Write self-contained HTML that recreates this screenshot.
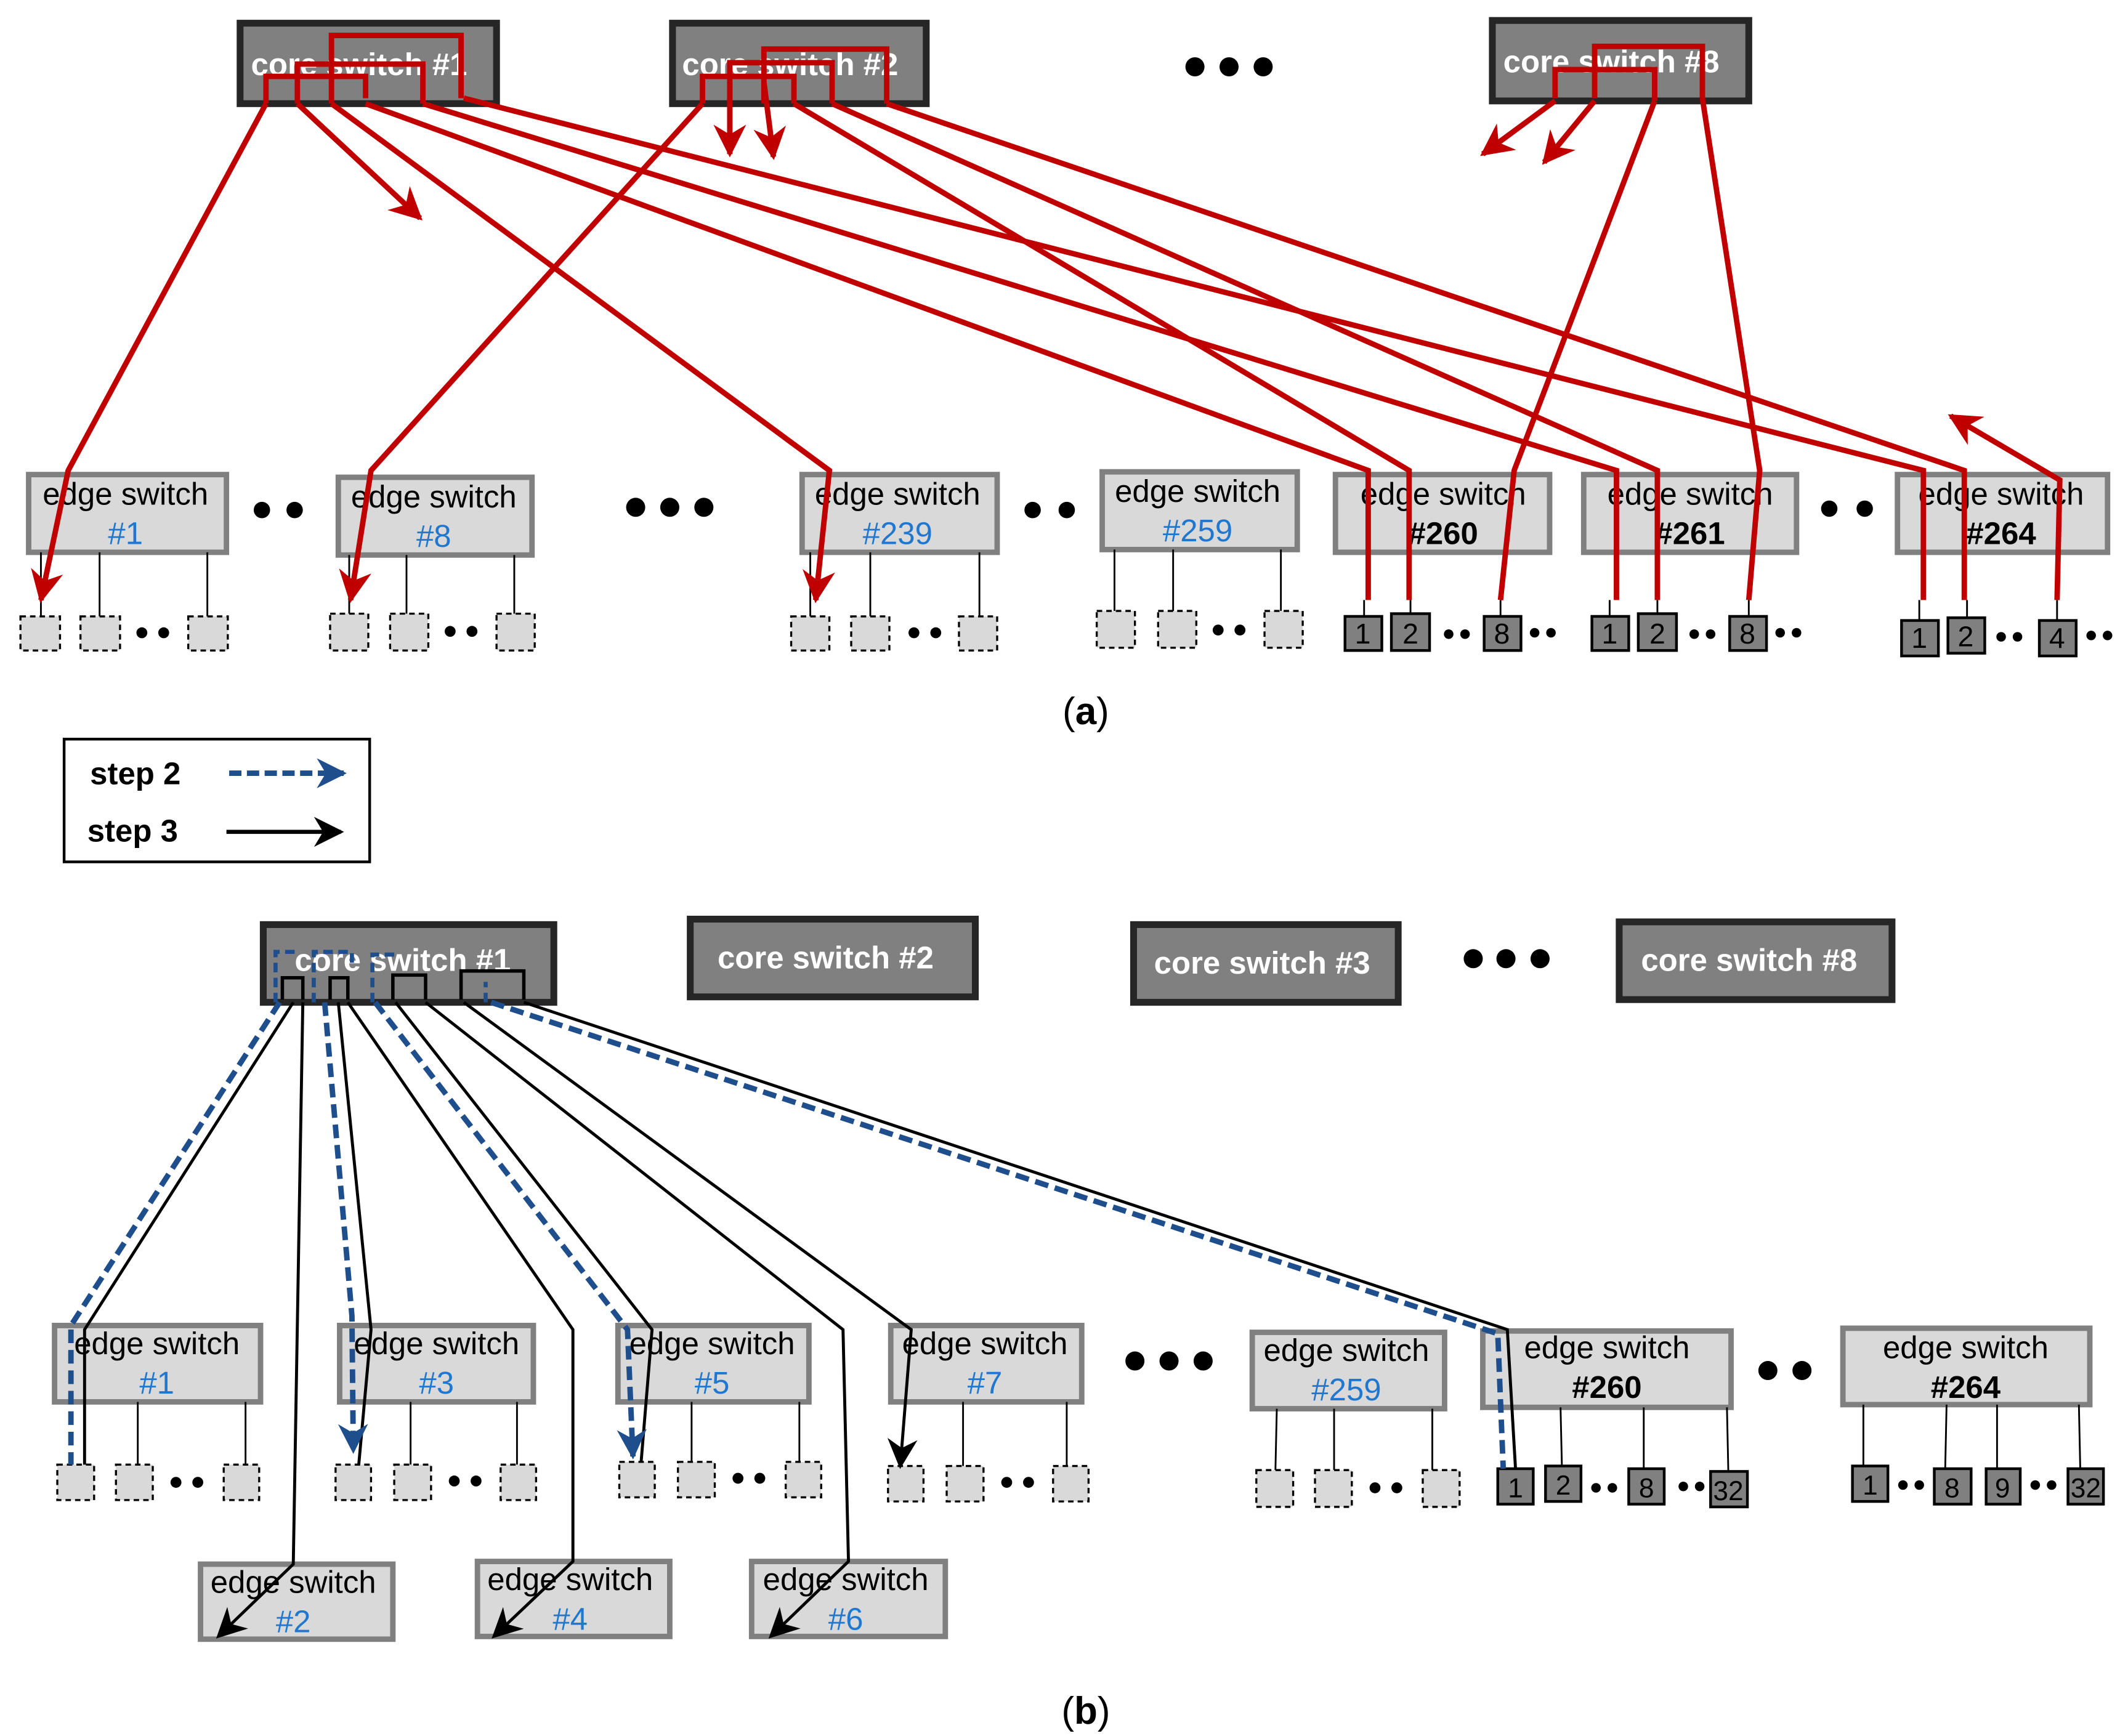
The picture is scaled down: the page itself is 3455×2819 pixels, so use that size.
<!DOCTYPE html>
<html><head><meta charset="utf-8"><style>
html,body{margin:0;padding:0;background:#fff;}
svg{display:block;}
text{font-family:"Liberation Sans",sans-serif;}
</style></head><body>
<svg width="3455" height="2819" viewBox="0 0 1560 1273" preserveAspectRatio="none" xmlns="http://www.w3.org/2000/svg">
<defs>
<marker id="ar" viewBox="0 0 12 12" refX="10" refY="6" markerWidth="6" markerHeight="6" orient="auto" markerUnits="userSpaceOnUse">
</marker>
<marker id="red" viewBox="0 0 20 20" refX="18" refY="10" markerWidth="24" markerHeight="24" orient="auto" markerUnits="userSpaceOnUse"><path d="M0,0 L20,10 L0,20 L6,10 Z" fill="#c00000"/></marker>
<marker id="blk" viewBox="0 0 20 20" refX="18" refY="10" markerWidth="22" markerHeight="22" orient="auto" markerUnits="userSpaceOnUse"><path d="M0,0 L20,10 L0,20 L6,10 Z" fill="#000"/></marker>
<marker id="blu" viewBox="0 0 20 20" refX="18" refY="10" markerWidth="22" markerHeight="22" orient="auto" markerUnits="userSpaceOnUse"><path d="M0,0 L20,10 L0,20 L6,10 Z" fill="#1f4e8c"/></marker>
</defs>

<!-- ============ PART (a) ============ -->
<g stroke="#262626" stroke-width="5" fill="#808080">
<rect x="176" y="17" width="188" height="59"/>
<rect x="493" y="17" width="186" height="59"/>
<rect x="1094" y="15" width="188" height="59"/>
</g>
<g fill="#fff" font-weight="bold" font-size="23">
<text x="184" y="55">core switch #1</text>
<text x="500" y="55">core switch #2</text>
<text x="1102" y="53">core switch #8</text>
</g>
<g fill="#000"><circle cx="876" cy="49" r="7"/><circle cx="901" cy="49" r="7"/><circle cx="926" cy="49" r="7"/></g>

<!-- edge boxes (a) -->
<g stroke="#808080" stroke-width="4" fill="#d9d9d9">
<rect x="21" y="348" width="145" height="57"/>
<rect x="248" y="350" width="142" height="57"/>
<rect x="588" y="348" width="143" height="57"/>
<rect x="808" y="346" width="143" height="57"/>
<rect x="979" y="348" width="157" height="57"/>
<rect x="1161" y="348" width="156" height="57"/>
<rect x="1391" y="348" width="154" height="57"/>
</g>
<g font-size="23" fill="#000" text-anchor="middle">
<text x="92" y="370">edge switch</text>
<text x="318" y="372">edge switch</text>
<text x="658" y="370">edge switch</text>
<text x="878" y="368">edge switch</text>
<text x="1058" y="370">edge switch</text>
<text x="1239" y="370">edge switch</text>
<text x="1467" y="370">edge switch</text>
</g>
<g font-size="23" fill="#1f77d0" text-anchor="middle">
<text x="92" y="399">#1</text>
<text x="318" y="401">#8</text>
<text x="658" y="399">#239</text>
<text x="878" y="397">#259</text>
</g>
<g font-size="23" fill="#000" font-weight="bold" text-anchor="middle">
<text x="1058" y="399">#260</text>
<text x="1239" y="399">#261</text>
<text x="1467" y="399">#264</text>
</g>
<g fill="#000">
<circle cx="192" cy="374" r="6"/><circle cx="216" cy="374" r="6"/>
<circle cx="466" cy="372" r="7"/><circle cx="491" cy="372" r="7"/><circle cx="516" cy="372" r="7"/>
<circle cx="757" cy="374" r="6"/><circle cx="782" cy="374" r="6"/>
<circle cx="1341" cy="373" r="6"/><circle cx="1367" cy="373" r="6"/>
</g>

<!-- hosts (a) -->
<g stroke="#000" stroke-width="1.3">
<line x1="30" y1="405" x2="30" y2="452"/><line x1="73" y1="405" x2="73" y2="452"/><line x1="152" y1="405" x2="152" y2="452"/>
<line x1="256" y1="407" x2="256" y2="450"/><line x1="298" y1="407" x2="298" y2="450"/><line x1="377" y1="407" x2="377" y2="450"/>
<line x1="594" y1="405" x2="594" y2="452"/><line x1="638" y1="405" x2="638" y2="452"/><line x1="718" y1="405" x2="718" y2="452"/>
<line x1="817" y1="403" x2="817" y2="448"/><line x1="860" y1="403" x2="860" y2="448"/><line x1="939" y1="403" x2="939" y2="448"/>
</g>
<g stroke="#000" stroke-width="1.5" stroke-dasharray="4,3" fill="#d9d9d9">
<rect x="15" y="452" width="29" height="25"/><rect x="59" y="452" width="29" height="25"/><rect x="138" y="452" width="29" height="25"/>
<rect x="242" y="450" width="28" height="27"/><rect x="286" y="450" width="28" height="27"/><rect x="364" y="450" width="28" height="27"/>
<rect x="580" y="452" width="28" height="25"/><rect x="624" y="452" width="28" height="25"/><rect x="703" y="452" width="28" height="25"/>
<rect x="804" y="448" width="28" height="27"/><rect x="849" y="448" width="28" height="27"/><rect x="927" y="448" width="28" height="27"/>
</g>
<g fill="#000">
<circle cx="104" cy="464" r="4"/><circle cx="120" cy="464" r="4"/>
<circle cx="330" cy="463" r="4"/><circle cx="346" cy="463" r="4"/>
<circle cx="670" cy="464" r="4"/><circle cx="686" cy="464" r="4"/>
<circle cx="893" cy="462" r="4"/><circle cx="909" cy="462" r="4"/>
<circle cx="1062" cy="465" r="3.5"/><circle cx="1074" cy="465" r="3.5"/><circle cx="1125" cy="464" r="3.5"/><circle cx="1137" cy="464" r="3.5"/>
<circle cx="1242" cy="465" r="3.5"/><circle cx="1254" cy="465" r="3.5"/><circle cx="1305" cy="464" r="3.5"/><circle cx="1317" cy="464" r="3.5"/>
<circle cx="1467" cy="467" r="3.5"/><circle cx="1479" cy="467" r="3.5"/><circle cx="1533" cy="466" r="3.5"/><circle cx="1545" cy="466" r="3.5"/>
</g>
<g stroke="#000" stroke-width="1.3">
<line x1="1000" y1="440" x2="1000" y2="452"/><line x1="1034" y1="440" x2="1034" y2="450"/><line x1="1100" y1="440" x2="1100" y2="452"/>
<line x1="1180" y1="440" x2="1180" y2="452"/><line x1="1215" y1="440" x2="1215" y2="450"/><line x1="1282" y1="440" x2="1282" y2="452"/>
<line x1="1407" y1="440" x2="1407" y2="455"/><line x1="1442" y1="440" x2="1442" y2="453"/><line x1="1508" y1="440" x2="1508" y2="455"/>
</g>
<g stroke="#000" stroke-width="2" fill="#808080">
<rect x="986" y="452" width="27" height="25"/><rect x="1020" y="450" width="28" height="27"/><rect x="1088" y="452" width="27" height="25"/>
<rect x="1167" y="452" width="27" height="25"/><rect x="1201" y="450" width="28" height="27"/><rect x="1268" y="452" width="27" height="25"/>
<rect x="1394" y="455" width="27" height="26"/><rect x="1428" y="453" width="27" height="26"/><rect x="1495" y="455" width="27" height="26"/>
</g>
<g font-size="21" fill="#000" text-anchor="middle">
<text x="999" y="472">1</text><text x="1034" y="472">2</text><text x="1101" y="472">8</text>
<text x="1180" y="472">1</text><text x="1215" y="472">2</text><text x="1281" y="472">8</text>
<text x="1407" y="475">1</text><text x="1441" y="474">2</text><text x="1508" y="475">4</text>
</g>

<!-- red paths (a) -->
<g stroke="#c00000" stroke-width="4" fill="none" stroke-linejoin="miter">
<polyline points="195,76 195,56 268,56 268,72"/>
<polyline points="218,76 218,47 310,47 310,76"/>
<polyline points="243,76 243,26 338,26 338,72"/>
<polyline points="195,76 50,345 30,440" marker-end="url(#red)"/>
<polyline points="218,76 308,160" marker-end="url(#red)"/>
<polyline points="243,76 608,345 598,440" marker-end="url(#red)"/>
<polyline points="268,76 1003,345 1003,440"/>
<polyline points="310,76 1185,345 1185,440"/>
<polyline points="340,72 1410,345 1410,440"/>

<polyline points="515,76 515,56 582,56 582,76"/>
<polyline points="535,76 535,46 610,46 610,76"/>
<polyline points="560,76 560,36 650,36 650,76"/>
<polyline points="515,76 272,345 257,440" marker-end="url(#red)"/>
<polyline points="535,60 535,113" marker-end="url(#red)"/>
<polyline points="560,60 567,115" marker-end="url(#red)"/>
<polyline points="582,76 1033,345 1033,440"/>
<polyline points="610,76 1215,345 1215,440"/>
<polyline points="650,76 1440,345 1440,440"/>

<polyline points="1140,72 1140,51 1213,51 1213,74"/>
<polyline points="1169,72 1169,34 1248,34 1248,72"/>
<polyline points="1140,74 1087,113" marker-end="url(#red)"/>
<polyline points="1169,74 1132,119" marker-end="url(#red)"/>
<polyline points="1213,74 1110,345 1100,440"/>
<polyline points="1248,72 1290,345 1282,440"/>
<polyline points="1508,440 1510,352 1430,305" marker-end="url(#red)"/>
</g>

<text x="796" y="531" font-size="28" text-anchor="middle" font-family="Liberation Serif,serif">(<tspan font-weight="bold">a</tspan>)</text>

<!-- legend -->
<rect x="47" y="542" width="224" height="90" fill="#fff" stroke="#000" stroke-width="2"/>
<text x="66" y="575" font-size="23" font-weight="bold">step 2</text>
<text x="64" y="617" font-size="23" font-weight="bold">step 3</text>
<line x1="168" y1="567" x2="252" y2="567" stroke="#1f4e8c" stroke-width="4" stroke-dasharray="9,4" marker-end="url(#blu)"/>
<line x1="166" y1="610" x2="250" y2="610" stroke="#000" stroke-width="3" marker-end="url(#blk)"/>

<!-- ============ PART (b) ============ -->
<g stroke="#262626" stroke-width="5" fill="#808080">
<rect x="193" y="678" width="213" height="57"/>
<rect x="506" y="674" width="209" height="57"/>
<rect x="831" y="678" width="194" height="57"/>
<rect x="1187" y="676" width="200" height="57"/>
</g>
<g fill="#fff" font-weight="bold" font-size="23">
<text x="216" y="712">core switch #1</text>
<text x="526" y="710">core switch #2</text>
<text x="846" y="714">core switch #3</text>
<text x="1203" y="712">core switch #8</text>
</g>
<g fill="#000"><circle cx="1080" cy="703" r="7"/><circle cx="1104" cy="703" r="7"/><circle cx="1129" cy="703" r="7"/></g>

<g stroke="#808080" stroke-width="4" fill="#d9d9d9">
<rect x="40" y="972" width="151" height="56"/>
<rect x="249" y="972" width="142" height="56"/>
<rect x="453" y="972" width="140" height="56"/>
<rect x="653" y="972" width="140" height="56"/>
<rect x="918" y="977" width="141" height="56"/>
<rect x="1087" y="976" width="182" height="56"/>
<rect x="1351" y="974" width="181" height="56"/>
<rect x="147" y="1147" width="141" height="55"/>
<rect x="350" y="1145" width="141" height="55"/>
<rect x="551" y="1145" width="142" height="55"/>
</g>
<g font-size="23" fill="#000" text-anchor="middle">
<text x="115" y="993">edge switch</text>
<text x="320" y="993">edge switch</text>
<text x="522" y="993">edge switch</text>
<text x="722" y="993">edge switch</text>
<text x="987" y="998">edge switch</text>
<text x="1178" y="996">edge switch</text>
<text x="1441" y="996">edge switch</text>
<text x="215" y="1168">edge switch</text>
<text x="418" y="1166">edge switch</text>
<text x="620" y="1166">edge switch</text>
</g>
<g font-size="23" fill="#1f77d0" text-anchor="middle">
<text x="115" y="1022">#1</text><text x="320" y="1022">#3</text><text x="522" y="1022">#5</text><text x="722" y="1022">#7</text>
<text x="987" y="1027">#259</text>
<text x="215" y="1197">#2</text><text x="418" y="1195">#4</text><text x="620" y="1195">#6</text>
</g>
<g font-size="23" fill="#000" font-weight="bold" text-anchor="middle">
<text x="1178" y="1025">#260</text><text x="1441" y="1025">#264</text>
</g>
<g fill="#000">
<circle cx="832" cy="998" r="7"/><circle cx="857" cy="998" r="7"/><circle cx="882" cy="998" r="7"/>
<circle cx="1296" cy="1005" r="7"/><circle cx="1321" cy="1005" r="7"/>
</g>

<!-- hosts (b) -->
<g stroke="#000" stroke-width="1.3">
<line x1="101" y1="1028" x2="101" y2="1074"/><line x1="180" y1="1028" x2="180" y2="1074"/>
<line x1="301" y1="1028" x2="301" y2="1074"/><line x1="379" y1="1028" x2="379" y2="1074"/>
<line x1="507" y1="1028" x2="507" y2="1072"/><line x1="586" y1="1028" x2="586" y2="1072"/>
<line x1="706" y1="1028" x2="706" y2="1075"/><line x1="782" y1="1028" x2="782" y2="1075"/>
<line x1="936" y1="1033" x2="935" y2="1078"/><line x1="978" y1="1033" x2="978" y2="1078"/><line x1="1050" y1="1033" x2="1050" y2="1078"/>
<line x1="1144" y1="1032" x2="1145" y2="1075"/><line x1="1205" y1="1032" x2="1205" y2="1077"/><line x1="1266" y1="1032" x2="1267" y2="1079"/>
<line x1="1366" y1="1030" x2="1366" y2="1075"/><line x1="1427" y1="1030" x2="1426" y2="1077"/><line x1="1464" y1="1030" x2="1464" y2="1077"/><line x1="1524" y1="1030" x2="1525" y2="1077"/>
</g>
<g stroke="#000" stroke-width="1.5" stroke-dasharray="4,3" fill="#d9d9d9">
<rect x="42" y="1074" width="27" height="26"/><rect x="85" y="1074" width="27" height="26"/><rect x="164" y="1074" width="26" height="26"/>
<rect x="246" y="1074" width="26" height="26"/><rect x="289" y="1074" width="27" height="26"/><rect x="367" y="1074" width="26" height="26"/>
<rect x="454" y="1072" width="26" height="26"/><rect x="497" y="1072" width="27" height="26"/><rect x="576" y="1072" width="26" height="26"/>
<rect x="651" y="1075" width="26" height="26"/><rect x="694" y="1075" width="27" height="26"/><rect x="772" y="1075" width="26" height="26"/>
<rect x="921" y="1078" width="27" height="27"/><rect x="964" y="1078" width="27" height="27"/><rect x="1043" y="1078" width="27" height="27"/>
</g>
<g fill="#000">
<circle cx="129" cy="1087" r="4"/><circle cx="145" cy="1087" r="4"/>
<circle cx="333" cy="1086" r="4"/><circle cx="349" cy="1086" r="4"/>
<circle cx="541" cy="1084" r="4"/><circle cx="557" cy="1084" r="4"/>
<circle cx="738" cy="1087" r="4"/><circle cx="754" cy="1087" r="4"/>
<circle cx="1008" cy="1091" r="4"/><circle cx="1024" cy="1091" r="4"/>
<circle cx="1170" cy="1091" r="3.5"/><circle cx="1182" cy="1091" r="3.5"/><circle cx="1234" cy="1090" r="3.5"/><circle cx="1246" cy="1090" r="3.5"/>
<circle cx="1395" cy="1089" r="3.5"/><circle cx="1407" cy="1089" r="3.5"/><circle cx="1492" cy="1089" r="3.5"/><circle cx="1504" cy="1089" r="3.5"/>
</g>
<g stroke="#000" stroke-width="2" fill="#808080">
<rect x="1098" y="1077" width="26" height="26"/><rect x="1133" y="1075" width="26" height="26"/><rect x="1194" y="1077" width="26" height="26"/><rect x="1254" y="1079" width="27" height="26"/>
<rect x="1358" y="1075" width="26" height="26"/><rect x="1418" y="1077" width="27" height="26"/><rect x="1456" y="1077" width="25" height="26"/><rect x="1516" y="1077" width="26" height="26"/>
</g>
<g font-size="20" fill="#000" text-anchor="middle">
<text x="1111" y="1098">1</text><text x="1146" y="1096">2</text><text x="1207" y="1098">8</text><text x="1267" y="1100">32</text>
<text x="1371" y="1096">1</text><text x="1431" y="1098">8</text><text x="1468" y="1098">9</text><text x="1529" y="1098">32</text>
</g>

<!-- brackets inside core #1 (b) -->
<g stroke="#000" stroke-width="2.5" fill="none">
<polyline points="207,733 207,717 222,717 222,733"/>
<polyline points="242,733 242,717 255,717 255,733"/>
<polyline points="288,733 288,715 312,715 312,733"/>
<polyline points="338,733 338,712 384,712 384,733"/>
</g>
<g stroke="#1f4e8c" stroke-width="3" fill="none" stroke-dasharray="7,4">
<polyline points="202,735 202,698 218,698"/>
<polyline points="230,735 230,698 258,698 258,708"/>
<polyline points="273,735 273,700 292,700"/>
<polyline points="356,735 356,720"/>
</g>

<!-- black step3 lines -->
<g stroke="#000" stroke-width="2.2" fill="none">
<polyline points="215,735 62,975 62,1074"/>
<polyline points="222,735 215,1147 160,1200" marker-end="url(#blk)"/>
<polyline points="248,735 272,975 263,1074"/>
<polyline points="255,735 420,975 420,1145 362,1200" marker-end="url(#blk)"/>
<polyline points="290,735 478,975 470,1072"/>
<polyline points="312,735 618,975 622,1145 565,1200" marker-end="url(#blk)"/>
<polyline points="340,735 668,975 660,1075" marker-end="url(#blk)"/>
<polyline points="384,735 1105,975 1111,1077"/>
</g>
<!-- blue dashed step2 lines -->
<g stroke="#1f4e8c" stroke-width="4" fill="none" stroke-dasharray="10,5">
<polyline points="205,735 52,972 52,1074"/>
<polyline points="238,735 258,965 259,1064" marker-end="url(#blu)"/>
<polyline points="275,735 460,975 464,1068" marker-end="url(#blu)"/>
<polyline points="360,735 1098,978 1102,1077"/>
</g>

<text x="796" y="1264" font-size="28" text-anchor="middle" font-family="Liberation Serif,serif">(<tspan font-weight="bold">b</tspan>)</text>
</svg>
</body></html>
